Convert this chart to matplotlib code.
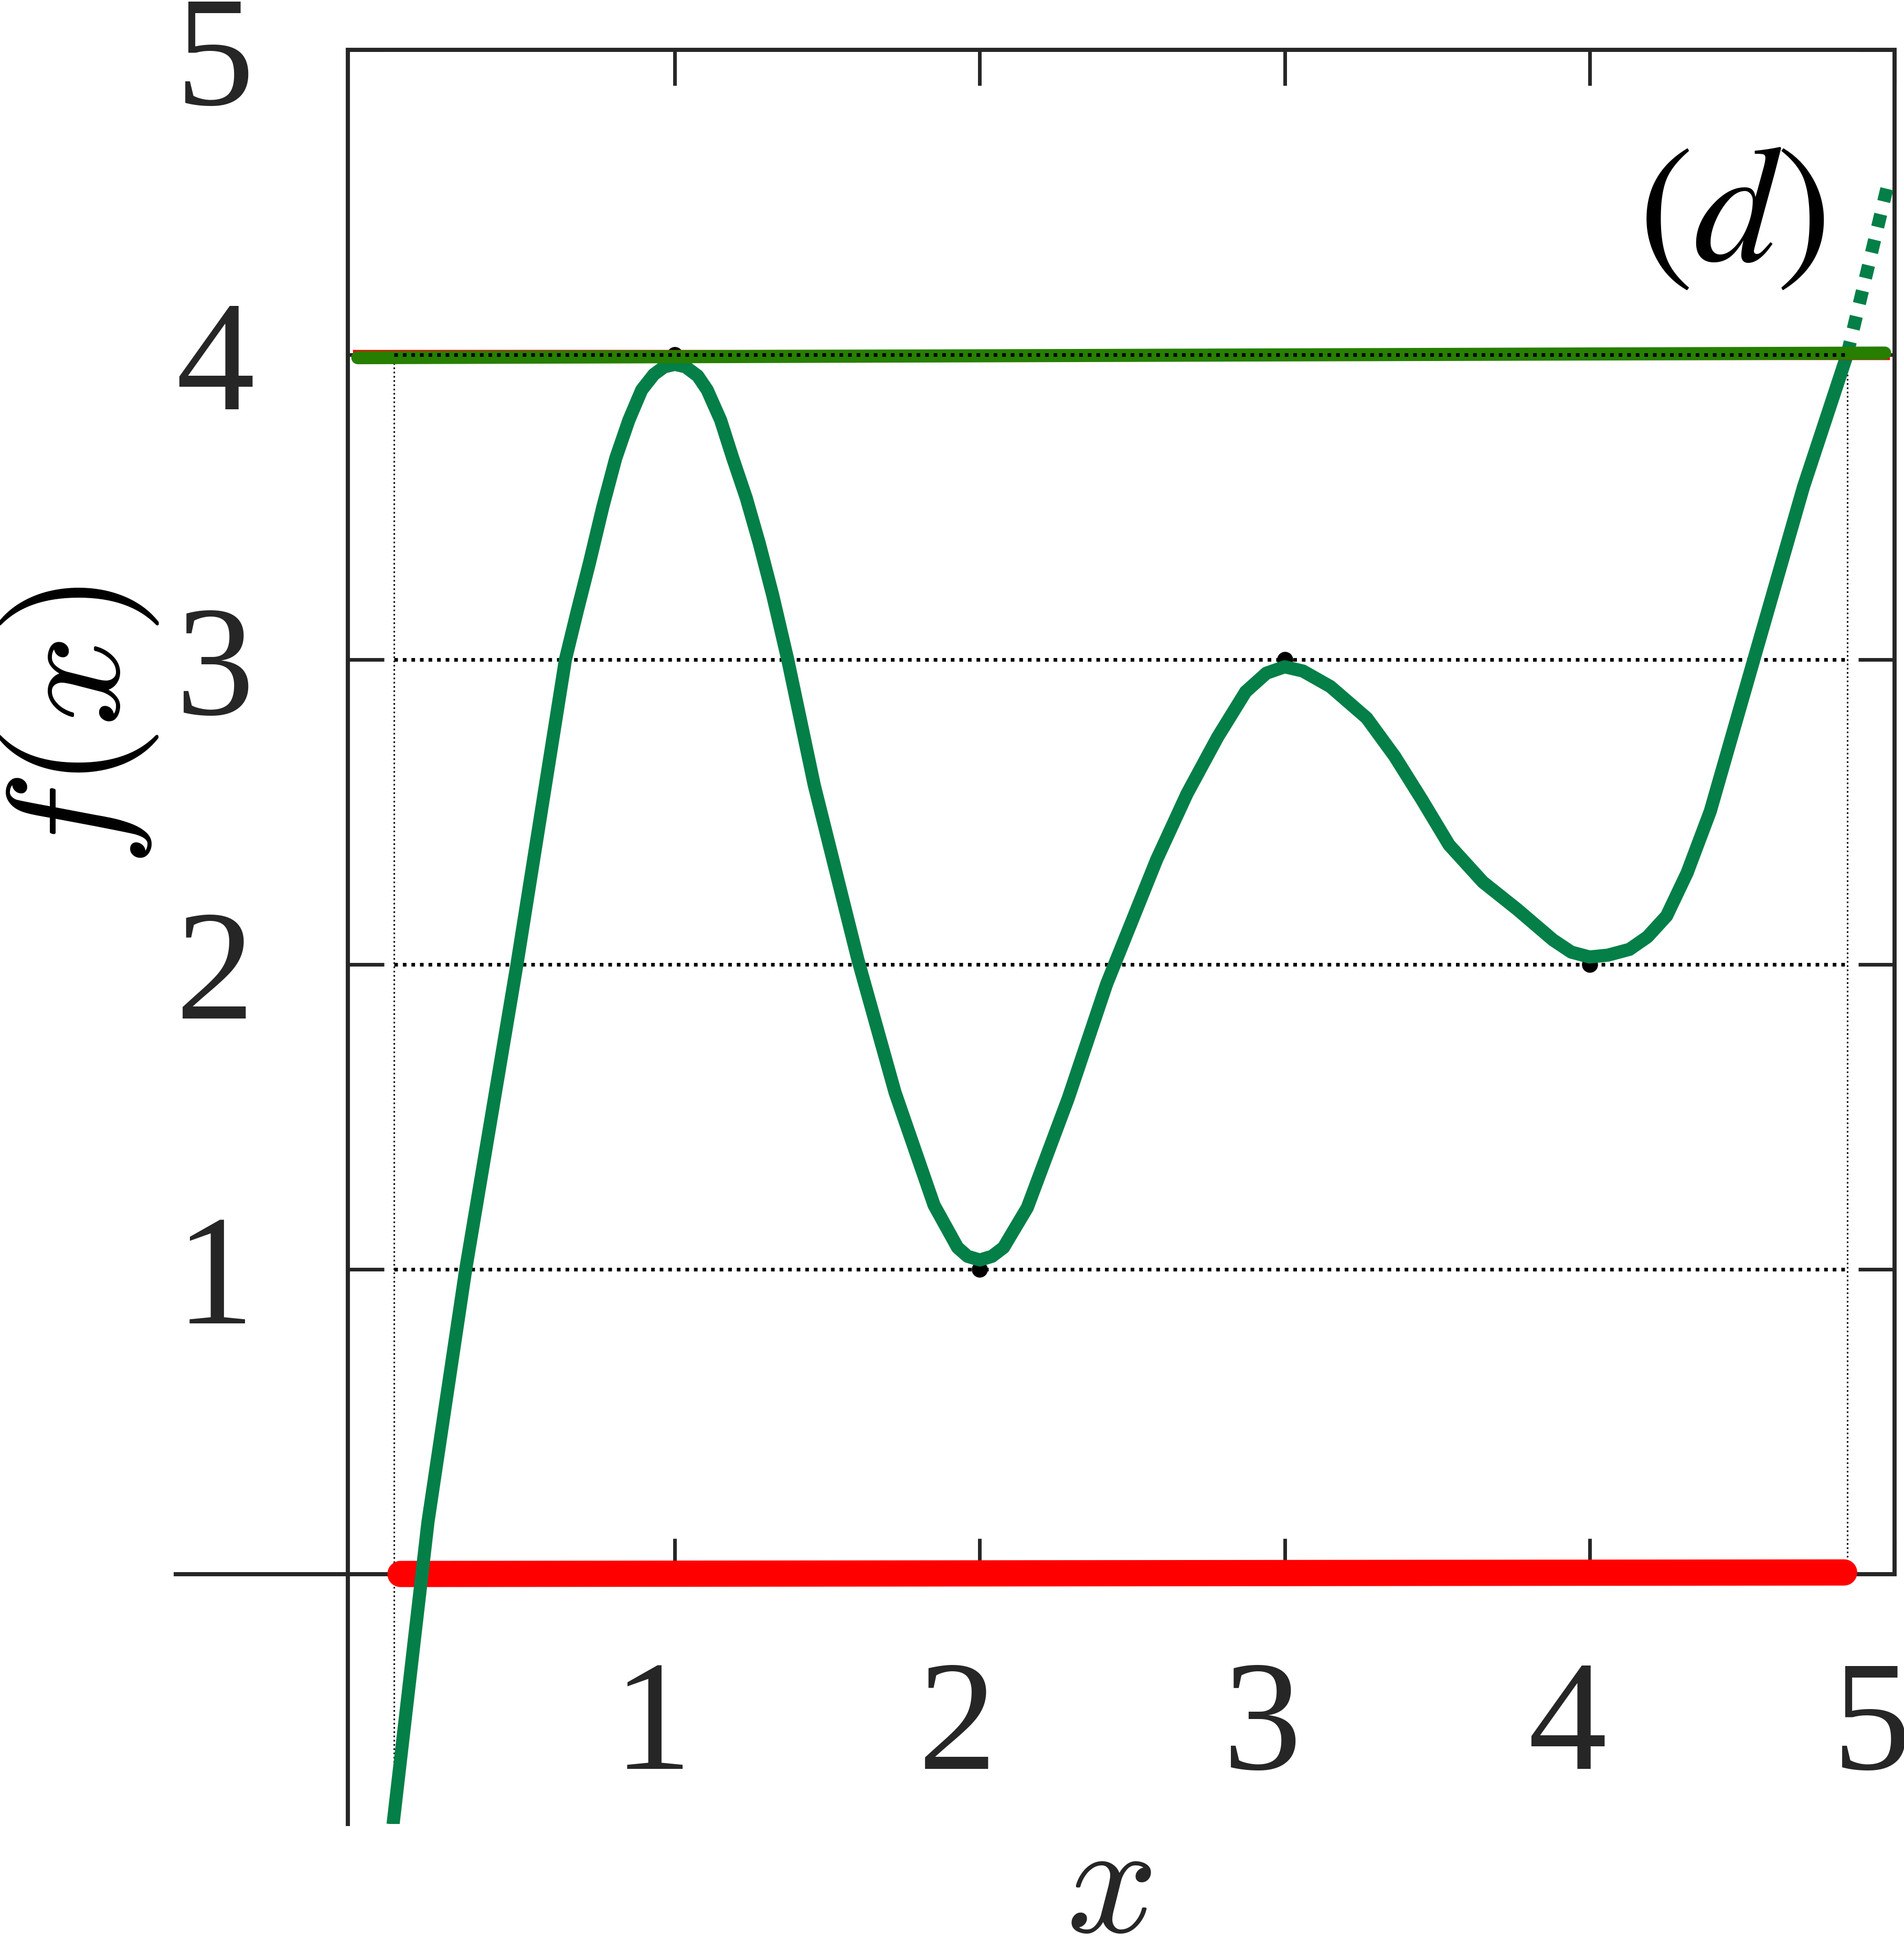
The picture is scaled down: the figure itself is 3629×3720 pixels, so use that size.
import matplotlib
matplotlib.use("Agg")
import matplotlib.pyplot as plt
import matplotlib.transforms as mtransforms

# dane
x_curve = [0.078, 0.19, 0.314, 0.482, 0.641, 0.68, 0.72, 0.764, 0.806, 0.849,
           0.891, 0.931, 0.965, 1.0, 1.035, 1.075, 1.106, 1.150, 1.19, 1.234,
           1.277, 1.321, 1.37, 1.457, 1.6, 1.722, 1.85, 1.927, 1.96, 2.0,
           2.04, 2.078, 2.156, 2.29, 2.416, 2.58, 2.68, 2.78, 2.872, 2.94,
           3.0, 3.06, 3.15, 3.269, 3.361, 3.45, 3.539, 3.65, 3.763, 3.88,
           3.94, 4.0, 4.06, 4.131, 4.19, 4.253, 4.32, 4.396, 4.539, 4.702,
           4.845]
y_curve = [-0.80, 0.17, 1.0, 2.0, 3.0, 3.16, 3.318, 3.502, 3.66, 3.785,
           3.884, 3.935, 3.96, 3.968, 3.96, 3.93, 3.884, 3.785, 3.66, 3.53,
           3.38, 3.21, 3.0, 2.588, 2.016, 1.58, 1.21, 1.071, 1.042, 1.03,
           1.042, 1.071, 1.202, 1.56, 1.935, 2.343, 2.56, 2.745, 2.894, 2.955,
           2.976, 2.962, 2.911, 2.808, 2.682, 2.54, 2.392, 2.27, 2.18, 2.08,
           2.04, 2.024, 2.03, 2.049, 2.09, 2.159, 2.30, 2.502, 3.0, 3.567,
           4.0]
x_ext = [4.845, 4.985]
y_ext = [4.0, 4.586]

x_nodes = [1, 2, 3, 4]
y_nodes = [4, 1, 3, 2]

x_a, x_b = 0.078, 4.845
y_bottom_a = -0.80
level = 4.0
grid_levels = [1, 2, 3]

red_x = [0.10, 4.835]
red_y = [0.0, 0.005]
green_x = [-0.04, 4.968]
green_y = [3.99, 4.005]

x_ticks = [1, 2, 3, 4, 5]
y_ticks = [1, 2, 3, 4, 5]
tick_labels = ["1", "2", "3", "4", "5"]

XLIM = (-0.073, 5.0)
YLIM = (-0.82, 5.0)
AXIS_LEFT_END = -0.638

C_CURVE = "#037F47"
C_LEVEL = "#267F00"
C_RED = "#FF0000"
C_AX = "#262626"


def main():
    plt.rcParams["mathtext.fontset"] = "cm"
    fig = plt.figure(figsize=(36.3, 37.2), dpi=100)
    ax = fig.add_axes([0.1826, 0.0656, 0.8121, 0.9089])
    ax.set_xlim(*XLIM)
    ax.set_ylim(*YLIM)

    # linie pomocnicze
    for yl in grid_levels:
        ax.plot([x_a, x_b], [yl, yl], color="black", lw=5, dashes=(1, 1.35),
                zorder=1)
    ax.plot([x_a, x_a], [y_bottom_a, level], color="black", lw=2.2, ls=":",
            zorder=1)
    ax.plot([x_b, x_b], [0, level], color="black", lw=2.2, ls=":", zorder=1)

    ax.plot(red_x, red_y, color=C_RED, lw=36, solid_capstyle="round",
            zorder=2.6)
    ax.plot(x_nodes, y_nodes, "o", color="black", ms=21, zorder=2.7)
    ax.plot(x_curve, y_curve, color=C_CURVE, lw=18, zorder=3,
            solid_joinstyle="round")
    ax.plot(x_ext, y_ext, color=C_CURVE, lw=18, dashes=(1, 1), zorder=3,
            clip_on=False)
    ax.plot(green_x, [level, level], color=C_RED, lw=14, zorder=3.5)
    ax.plot(green_x, green_y, color=C_LEVEL, lw=18, solid_capstyle="round",
            zorder=4)
    ax.plot([x_a, x_b], [level, level], color="black", lw=5, dashes=(1, 1.35),
            zorder=5)

    # osie w stylu "origin"
    for s in ax.spines.values():
        s.set_color(C_AX)
        s.set_linewidth(5.7)
    ax.spines["bottom"].set_position(("data", 0))
    ax.spines["bottom"].set_bounds(AXIS_LEFT_END, XLIM[1])
    ax.spines["right"].set_bounds(0, YLIM[1])

    ax.set_xticks(x_ticks)
    ax.set_xticklabels(tick_labels)
    ax.set_yticks(y_ticks)
    ax.set_yticklabels(tick_labels)
    ax.tick_params(axis="x", top=True, bottom=True, direction="in", length=49,
                   width=5, color=C_AX, labelcolor=C_AX, pad=118,
                   labelsize=216)
    ax.tick_params(axis="y", left=True, right=True, direction="in", length=50,
                   width=5, color=C_AX, labelcolor=C_AX, pad=128,
                   labelsize=216)
    for lab in ax.get_xticklabels() + ax.get_yticklabels():
        lab.set_fontfamily("Liberation Serif")

    shift = mtransforms.ScaledTranslation(-0.424, 0, fig.dpi_scale_trans)
    for lab in ax.get_xticklabels():
        lab.set_transform(lab.get_transform() + shift)

    ax.set_xlabel(r"$x$", fontsize=220, color=C_AX)
    ax.xaxis.label.set_va("baseline")
    ax.xaxis.set_label_coords(0.4922, -0.0609)
    ax.set_ylabel(r"$f(x)$", fontsize=220, color="black")
    ax.yaxis.set_label_coords(-0.121, 0.6186)

    ax.text(4.466, 4.308, r"$(d)$", fontsize=228, ha="center", va="baseline",
            math_fontfamily="stix", color="black")

    fig.savefig("out.png", dpi=100)


if __name__ == "__main__":
    main()
